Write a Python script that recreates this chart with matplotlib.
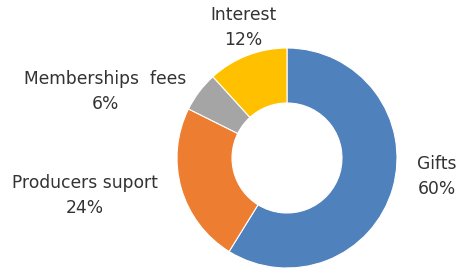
import matplotlib
matplotlib.use("Agg")
import matplotlib.pyplot as plt

categories = ["Gifts", "Producers suport", "Memberships  fees", "Interest"]
values = [60, 24, 6, 12]
pct_labels = ["60%", "24%", "6%", "12%"]
colors = ["#4F81BD", "#ED7D31", "#A5A5A5", "#FFC000"]

# label centres in pixel space of the 458x270 image (name line, pct line)
label_px = [(437, 164, 189), (85, 183, 208), (105, 79, 104), (243, 15, 40)]

W, H = 458, 270
cx, cy, r = 287, 158, 110

fig = plt.figure(figsize=(W / 100, H / 100), dpi=100)
ax = fig.add_axes([(cx - r) / W, (H - cy - r) / H, 2 * r / W, 2 * r / H])
ax.pie(values, colors=colors, startangle=90, counterclock=False,
       radius=1, wedgeprops=dict(width=0.5, edgecolor="white", linewidth=0.8))
ax.set_xlim(-1, 1)
ax.set_ylim(-1, 1)
ax.set_aspect("equal")
ax.axis("off")


def to_data(px, py):
    return (px - cx) / r, (cy - py) / r


for name, pct, (lx, y1, y2) in zip(categories, pct_labels, label_px):
    x, y = to_data(lx, y1)
    ax.text(x, y, name, ha="center", va="center", fontsize=12.3,
            color="#333333", clip_on=False)
    x, y = to_data(lx, y2)
    ax.text(x, y, pct, ha="center", va="center", fontsize=12.3,
            color="#333333", clip_on=False)

fig.savefig("out.png", dpi=100)
